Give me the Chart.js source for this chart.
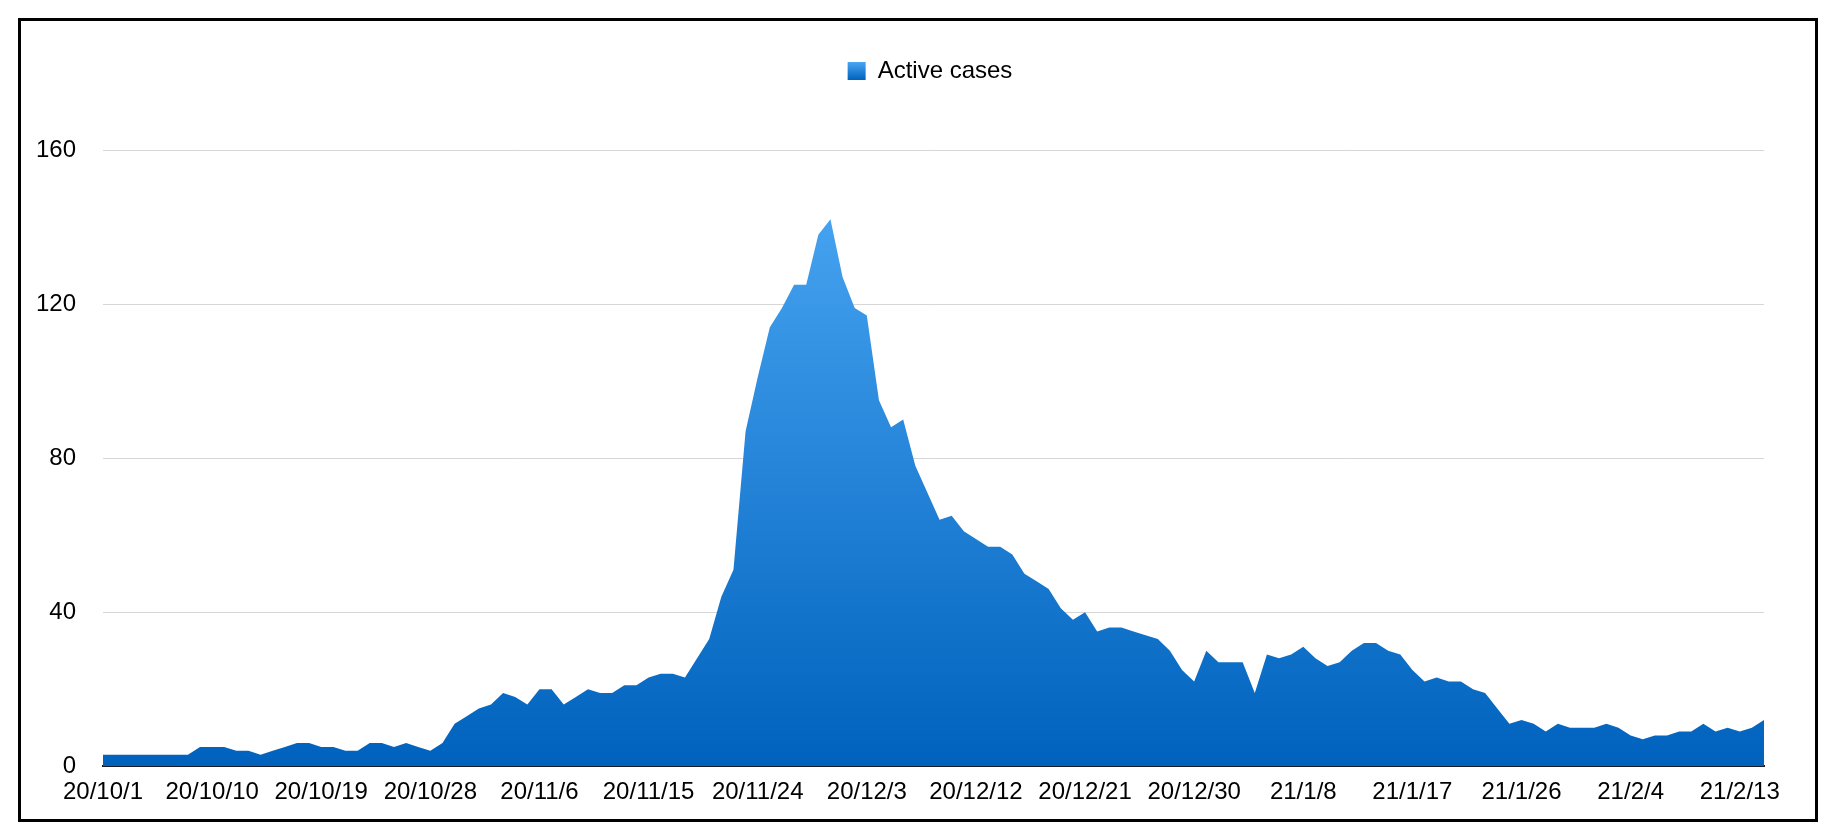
<!DOCTYPE html>
<html>
<head>
<meta charset="utf-8">
<script src="https://cdn.jsdelivr.net/npm/chart.js@4"></script>
<style>
  html, body { margin: 0; padding: 0; background: #fff; }
  #wrap { position: relative; width: 1834px; height: 840px; }
</style>
</head>
<body>
<div id="wrap"><canvas id="activeChart"></canvas></div>
<script>
// daily active cases, 2020/10/1 .. 2021/2/15
const activeCases = [
  3, 3, 3, 3, 3, 3, 3, 3, 5, 5, 5, 4, 4, 3, 4, 5, 6, 6, 5, 5,
  4, 4, 6, 6, 5, 6, 5, 4, 6, 11, 13, 15, 16, 19, 18, 16, 20, 20, 16, 18,
  20, 19, 19, 21, 21, 23, 24, 24, 23, 28, 33, 44, 51, 87, 101, 114, 119, 125, 125, 138,
  142, 127, 119, 117, 95, 88, 90, 78, 71, 64, 65, 61, 59, 57, 57, 55, 50, 48, 46, 41,
  38, 40, 35, 36, 36, 35, 34, 33, 30, 25, 22, 30, 27, 27, 27, 19, 29, 28, 29, 31,
  28, 26, 27, 30, 32, 32, 30, 29, 25, 22, 23, 22, 22, 20, 19, 15, 11, 12, 11, 9,
  11, 10, 10, 10, 11, 10, 8, 7, 8, 8, 9, 9, 11, 9, 10, 9, 10, 12
];

const tickLabels = [
  "20/10/1", "20/10/10", "20/10/19", "20/10/28", "20/11/6", "20/11/15",
  "20/11/24", "20/12/3", "20/12/12", "20/12/21", "20/12/30", "21/1/8",
  "21/1/17", "21/1/26", "21/2/4", "21/2/13"
];

const yTicks = [0, 40, 80, 120, 160];

// one category per day
const days = [];
const start = new Date(2020, 9, 1);
for (let i = 0; i < activeCases.length; i++) {
  const d = new Date(start.getFullYear(), start.getMonth(), start.getDate() + i);
  days.push((d.getFullYear() % 100) + "/" + (d.getMonth() + 1) + "/" + d.getDate());
}

const FONT = "'Liberation Sans', Arial, Helvetica, sans-serif";

// extra room under the legend, and nudge it over the plot centre
const legendSpace = {
  id: "legendSpace",
  beforeInit(chart) {
    const fit = chart.legend.fit;
    chart.legend.fit = function () {
      fit.bind(chart.legend)();
      this.height += 57;
    };
  },
  afterLayout(chart) {
    chart.legend.left += 48;
    chart.legend.right += 48;
  }
};

const frame = {
  id: "frame",
  afterDraw(chart) {
    const c = chart.ctx;
    c.save();
    c.lineWidth = 3;
    c.strokeStyle = "#000";
    c.strokeRect(19.5, 19.5, 1797, 801);
    c.restore();
  }
};

const ctx = document.getElementById("activeChart");
new Chart(ctx, {
  type: "line",
  data: {
    labels: days,
    datasets: [{
      label: "Active cases",
      data: activeCases,
      fill: "origin",
      borderWidth: 0,
      pointRadius: 0,
      tension: 0,
      backgroundColor: (context) => {
        const area = context.chart.chartArea;
        if (!area) return "#2a8ce0";
        const g = context.chart.ctx.createLinearGradient(0, area.top, 0, area.bottom);
        g.addColorStop(0, "#4eaaf6");
        g.addColorStop(1, "#0062bd");
        return g;
      }
    }]
  },
  options: {
    responsive: true,
    maintainAspectRatio: false,
    animation: false,
    layout: { padding: { left: 0, right: 70, top: 49, bottom: 21 } },
    plugins: {
      tooltip: { enabled: false },
      legend: {
        position: "top",
        labels: {
          color: "#000",
          font: { family: FONT, size: 24 },
          boxWidth: 18,
          boxHeight: 18,
          padding: 10,
          generateLabels: (chart) => {
            const g = chart.ctx.createLinearGradient(0, 61, 0, 80);
            g.addColorStop(0, "#4eaaf6");
            g.addColorStop(1, "#0062bd");
            return [{
              text: "Active cases",
              fillStyle: g,
              strokeStyle: "rgba(0,0,0,0)",
              lineWidth: 0,
              fontColor: "#000",
              datasetIndex: 0,
              hidden: false
            }];
          }
        }
      }
    },
    scales: {
      x: {
        grid: { display: false, drawTicks: false },
        border: { display: true, color: "#1c1c26", width: 2 },
        ticks: {
          autoSkip: false,
          maxRotation: 0,
          padding: 12,
          color: "#000",
          font: { family: FONT, size: 24 },
          callback: function (value, index) {
            return tickLabels.includes(days[index]) ? days[index] : "";
          }
        }
      },
      y: {
        min: 0,
        max: 160,
        afterFit: (scale) => { scale.width = 103; },
        afterBuildTicks: (scale) => { scale.ticks = yTicks.map(v => ({ value: v })); },
        grid: { color: "#d6d6d6", lineWidth: 1, drawTicks: false },
        border: { display: false },
        ticks: {
          padding: 27,
          color: "#000",
          font: { family: FONT, size: 24 }
        }
      }
    }
  },
  plugins: [legendSpace, frame]
});
</script>
</body>
</html>
